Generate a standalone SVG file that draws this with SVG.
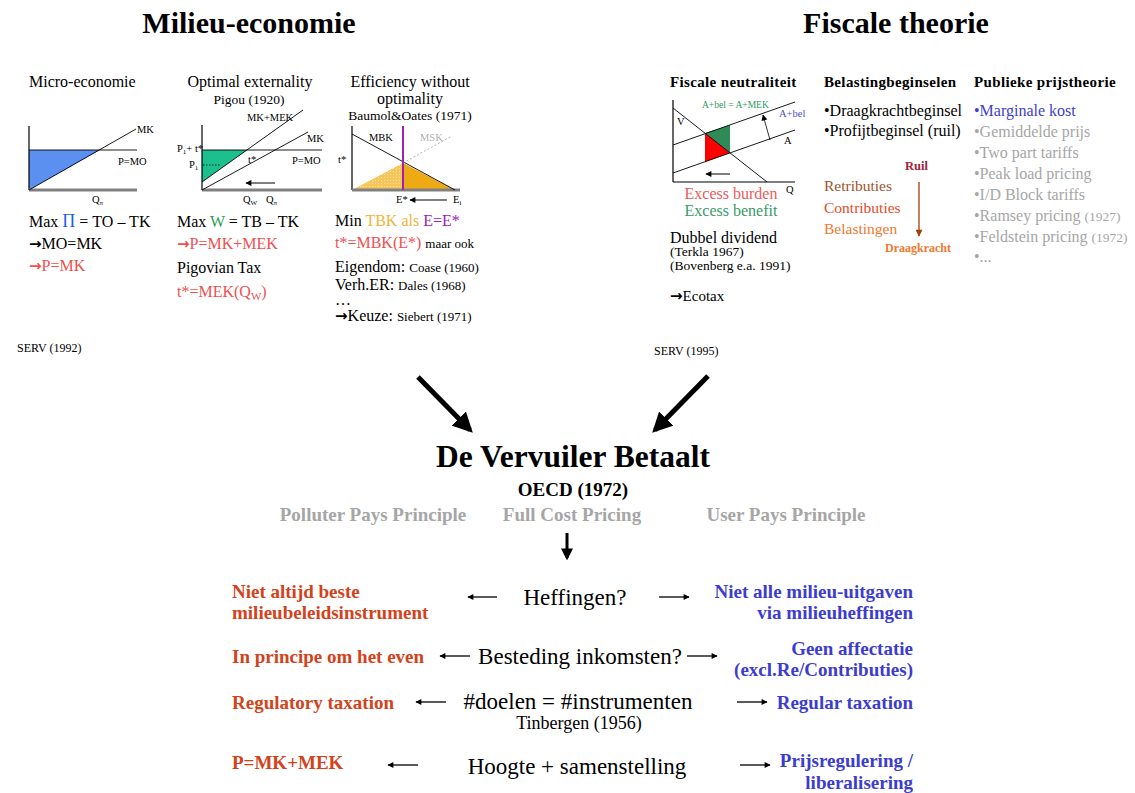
<svg xmlns="http://www.w3.org/2000/svg" width="1135" height="793" viewBox="0 0 1135 793">
<style>
  text { font-family: "Liberation Serif", "Times New Roman", serif; }
  .h1 { font-size: 30px; font-weight: bold; }
  .h2 { font-size: 16px; }
  .h3 { font-size: 15px; font-weight: bold; letter-spacing: 0.35px; }
  .sm { font-size: 13.5px; }
  .lbl { font-size: 10.5px; }
  .body { font-size: 16px; }
  .mid { font-size: 23px; }
  .b19 { font-size: 19px; font-weight: bold; }
  .arr { font-family: "DejaVu Sans", sans-serif; font-weight: bold; font-size: 15px; }
  .red { fill: #f05050; }
  .ro { fill: #d4421a; }
  .blue { fill: #3c3cd0; }
  .gray { fill: #a6a6a6; }
  .axis { stroke: #808080; stroke-width: 3; }
  .ax { stroke: #000; stroke-width: 1.2; fill: none; }
  .ln { stroke: #000; stroke-width: 0.9; fill: none; }
  .big { stroke: #000; stroke-width: 5; fill: none; }
  .thin { stroke: #000; stroke-width: 1.3; fill: none; }
</style>
<defs>
  <marker id="bigHead" viewBox="0 0 10 10" refX="8" refY="5" markerWidth="4" markerHeight="4" orient="auto">
    <path d="M0,0 L10,5 L0,10 z" fill="#000"/>
  </marker>
  <marker id="smallHead" viewBox="0 0 10 10" refX="9" refY="5" markerWidth="7" markerHeight="6" orient="auto" markerUnits="userSpaceOnUse">
    <path d="M0,0 L10,5 L0,10 z" fill="#000"/>
  </marker>
  <marker id="brownHead" viewBox="0 0 10 10" refX="9" refY="5" markerWidth="8" markerHeight="7" orient="auto" markerUnits="userSpaceOnUse">
    <path d="M0,0 L10,5 L0,10 z" fill="#a0400a"/>
  </marker>
  <pattern id="hatch" width="3" height="3" patternUnits="userSpaceOnUse">
    <rect width="3" height="3" fill="#f6c65a"/>
    <rect width="1" height="1" fill="#fbe2a8"/>
  </pattern>
</defs>

<!-- Section headings -->
<g id="headings">
  <text class="h1" x="249" y="33" text-anchor="middle">Milieu-economie</text>
  <text class="h1" x="896" y="33" text-anchor="middle">Fiscale theorie</text>
</g>

<!-- Micro-economie panel -->
<g id="micro">
  <text class="h2" x="29" y="87" font-size="15.5">Micro-economie</text>
  <polygon points="29,150 100,150 29,190" fill="#5b8ff0"/>
  <line class="ax" x1="29" y1="126" x2="29" y2="190"/>
  <line class="axis" x1="29" y1="190" x2="137" y2="190"/>
  <line class="ln" x1="29" y1="150" x2="137" y2="150"/>
  <line class="ln" x1="29" y1="190" x2="136" y2="129"/>
  <text class="lbl" x="137" y="133">MK</text>
  <text class="lbl" x="118" y="165">P=MO</text>
  <text class="lbl" x="92" y="203">Q<tspan font-size="7" dy="2">π</tspan></text>
  <text class="body" x="29" y="227">Max <tspan fill="#2060f0" font-size="18">Π</tspan> = TO – TK</text>
  <text class="body" x="29" y="249"><tspan class="arr">→</tspan>MO=MK</text>
  <text class="body red" x="29" y="271"><tspan class="arr">→</tspan>P=MK</text>
  <text x="17" y="352" font-size="12">SERV (1992)</text>
</g>

<!-- Optimal externality panel -->
<g id="pigou">
  <text class="h2" x="250" y="87" text-anchor="middle">Optimal externality</text>
  <text class="sm" x="249" y="104" text-anchor="middle" font-size="14">Pigou (1920)</text>
  <polygon points="202,150 247,150 202,182" fill="#1cc08c"/>
  <line class="ax" x1="202" y1="125" x2="202" y2="190"/>
  <line class="axis" x1="202" y1="190" x2="322" y2="190"/>
  <line class="ln" x1="202" y1="150" x2="322" y2="150"/>
  <line class="ln" x1="202" y1="182" x2="303" y2="110"/>
  <line class="ln" x1="202" y1="190" x2="308" y2="132"/>
  <line x1="203" y1="165" x2="220" y2="165" stroke="#000" stroke-width="0.8" stroke-dasharray="1.5,1.5"/>
  <text class="lbl" x="177" y="152">P<tspan font-size="7" dy="2">1</tspan><tspan dy="-2">+ t*</tspan></text>
  <text class="lbl" x="189" y="168">P<tspan font-size="7" dy="2">1</tspan></text>
  <text class="lbl" x="247" y="121">MK+MEK</text>
  <text class="lbl" x="307" y="142">MK</text>
  <text class="lbl" x="248" y="163">t*</text>
  <text class="lbl" x="292" y="164">P=MO</text>
  <line x1="275" y1="183" x2="246" y2="183" stroke="#000" stroke-width="1" marker-end="url(#smallHead)"/>
  <text class="lbl" x="243" y="203">Q<tspan font-size="7" dy="2">W</tspan></text>
  <text class="lbl" x="266" y="203">Q<tspan font-size="7" dy="2">π</tspan></text>
  <text class="body" x="177" y="227">Max <tspan fill="#2e9a50">W</tspan> = TB – TK</text>
  <text class="body red" x="177" y="249"><tspan class="arr">→</tspan>P=MK+MEK</text>
  <text class="body" x="177" y="273">Pigovian Tax</text>
  <text class="body red" x="177" y="297">t*=MEK(Q<tspan font-size="11" dy="3">W</tspan><tspan dy="-3">)</tspan></text>
</g>

<!-- Efficiency without optimality panel -->
<g id="baumol">
  <text class="h2" x="410" y="87" text-anchor="middle">Efficiency without</text>
  <text class="h2" x="410" y="104" text-anchor="middle">optimality</text>
  <text class="sm" x="410" y="120" text-anchor="middle">Baumol&amp;Oates (1971)</text>
  <polygon points="352,190 403,163 403,190" fill="url(#hatch)"/>
  <polygon points="403,163 455,190 403,190" fill="#eeaa14"/>
  <line class="ax" x1="352" y1="126" x2="352" y2="190"/>
  <line class="axis" x1="352" y1="190" x2="460" y2="190"/>
  <line class="ln" x1="352" y1="134" x2="455" y2="190"/>
  <line x1="403" y1="163" x2="452" y2="136" stroke="#aaa" stroke-width="0.9" stroke-dasharray="2,2"/>
  <line x1="403" y1="126" x2="403" y2="190" stroke="#a020b0" stroke-width="2"/>
  <text class="lbl" x="369" y="141">MBK</text>
  <text class="lbl" x="420" y="141" fill="#b0b0b0">MSK</text>
  <text class="lbl" x="338" y="163">t*</text>
  <text class="lbl" x="396" y="203">E*</text>
  <line x1="447" y1="200" x2="410" y2="200" stroke="#000" stroke-width="1" marker-end="url(#smallHead)"/>
  <text class="lbl" x="453" y="203">E<tspan font-size="7" dy="2">i</tspan></text>
  <text class="body" x="335" y="226">Min <tspan fill="#f0b43c">TBK als</tspan> <tspan fill="#a020b0">E=E*</tspan></text>
  <text class="body" x="335" y="248"><tspan fill="#f05050">t*=MBK(E*)</tspan> <tspan font-size="13">maar ook</tspan></text>
  <text class="body" x="335" y="272">Eigendom: <tspan font-size="13">Coase (1960)</tspan></text>
  <text class="body" x="335" y="290">Verh.ER: <tspan font-size="13">Dales (1968)</tspan></text>
  <text class="body" x="335" y="305">…</text>
  <text class="body" x="335" y="321"><tspan class="arr">→</tspan>Keuze: <tspan font-size="13">Siebert (1971)</tspan></text>
</g>

<!-- Fiscale neutraliteit panel -->
<g id="neutraliteit">
  <text class="h3" x="670" y="87">Fiscale neutraliteit</text>
  <polygon points="705,133 730,125 730,153" fill="#2e8b57"/>
  <polygon points="705,133 730,153 705,162" fill="#ff0000"/>
  <line class="ax" x1="673" y1="100" x2="673" y2="182"/>
  <line class="ax" x1="673" y1="182" x2="795" y2="182"/>
  <line class="ln" x1="673" y1="108" x2="767" y2="182"/>
  <line class="ln" x1="673" y1="145" x2="795" y2="102"/>
  <line class="ln" x1="673" y1="173" x2="795" y2="130"/>
  <line x1="770" y1="140" x2="763" y2="115" stroke="#000" stroke-width="0.8" marker-end="url(#smallHead)"/>
  <line x1="730" y1="174" x2="706" y2="174" stroke="#000" stroke-width="1" marker-end="url(#smallHead)"/>
  <text class="lbl" x="677" y="125">V</text>
  <text class="lbl" x="784" y="144">A</text>
  <text class="lbl" x="779" y="117" fill="#5050d0">A+bel</text>
  <text x="702" y="108" font-size="9.5" fill="#2e9a60">A+bel = A+MEK</text>
  <text class="lbl" x="786" y="193">Q</text>
  <text class="body" x="731" y="199" text-anchor="middle" fill="#f05a5a">Excess burden</text>
  <text class="body" x="731" y="216" text-anchor="middle" fill="#3a9a68">Excess benefit</text>
  <text class="body" x="670" y="243">Dubbel dividend</text>
  <text class="sm" x="670" y="256">(Terkla 1967)</text>
  <text class="sm" x="670" y="270">(Bovenberg e.a. 1991)</text>
  <text x="670" y="301" font-size="15"><tspan class="arr">→</tspan>Ecotax</text>
  <text x="654" y="355" font-size="12">SERV (1995)</text>
</g>

<!-- Belastingbeginselen panel -->
<g id="beginselen">
  <text class="h3" x="824" y="87">Belastingbeginselen</text>
  <text class="h2" x="824" y="116">•Draagkrachtbeginsel</text>
  <text class="h2" x="824" y="136">•Profijtbeginsel (ruil)</text>
  <text x="905" y="170" font-size="12.5" font-weight="bold" fill="#a0203a">Ruil</text>
  <text x="824" y="191" font-size="15.5" fill="#a0522d">Retributies</text>
  <text x="824" y="213" font-size="15.5" fill="#e84a28">Contributies</text>
  <text x="824" y="234" font-size="15.5" fill="#f07830">Belastingen</text>
  <line x1="919" y1="182" x2="919" y2="236" stroke="#a0400a" stroke-width="1.3" marker-end="url(#brownHead)"/>
  <text x="885" y="252" font-size="12" font-weight="bold" fill="#f07830">Draagkracht</text>
</g>

<!-- Publieke prijstheorie panel -->
<g id="prijstheorie">
  <text class="h3" x="974" y="87">Publieke prijstheorie</text>
  <text class="h2" x="974" y="116" fill="#4040d0">•Marginale kost</text>
  <text class="h2 gray" x="974" y="137">•Gemiddelde prijs</text>
  <text class="h2 gray" x="974" y="158">•Two part tariffs</text>
  <text class="h2 gray" x="974" y="179">•Peak load pricing</text>
  <text class="h2 gray" x="974" y="200">•I/D Block tariffs</text>
  <text class="h2 gray" x="974" y="221">•Ramsey pricing <tspan font-size="13.5">(1927)</tspan></text>
  <text class="h2 gray" x="974" y="242">•Feldstein pricing <tspan font-size="13.5">(1972)</tspan></text>
  <text class="h2 gray" x="974" y="262">•...</text>
</g>

<!-- Central principle -->
<g id="vervuiler">
  <text x="573" y="467" text-anchor="middle" font-size="31.5" font-weight="bold">De Vervuiler Betaalt</text>
  <text class="b19" x="573" y="496" text-anchor="middle">OECD (1972)</text>
  <text class="b19 gray" x="373" y="521" text-anchor="middle">Polluter Pays Principle</text>
  <text class="b19 gray" x="572" y="521" text-anchor="middle">Full Cost Pricing</text>
  <text class="b19 gray" x="786" y="521" text-anchor="middle">User Pays Principle</text>
</g>

<!-- Question rows -->
<g id="heffingen">
  <text class="b19 ro" x="232" y="598">Niet altijd beste</text>
  <text class="b19 ro" x="232" y="619">milieubeleidsinstrument</text>
  <text class="mid" x="575" y="605" text-anchor="middle">Heffingen?</text>
  <text class="b19 blue" x="913" y="598" text-anchor="end">Niet alle milieu-uitgaven</text>
  <text class="b19 blue" x="913" y="619" text-anchor="end">via milieuheffingen</text>
</g>
<g id="besteding">
  <text class="b19 ro" x="232" y="663">In principe om het even</text>
  <text class="mid" x="580" y="664" text-anchor="middle">Besteding inkomsten?</text>
  <text class="b19 blue" x="913" y="655" text-anchor="end">Geen affectatie</text>
  <text class="b19 blue" x="913" y="676" text-anchor="end">(excl.Re/Contributies)</text>
</g>
<g id="doelen">
  <text class="b19 ro" x="232" y="709">Regulatory taxation</text>
  <text class="mid" x="578" y="709" text-anchor="middle">#doelen = #instrumenten</text>
  <text x="579" y="729" text-anchor="middle" font-size="18">Tinbergen (1956)</text>
  <text class="b19 blue" x="913" y="709" text-anchor="end">Regular taxation</text>
</g>
<g id="hoogte">
  <text class="b19 ro" x="232" y="769">P=MK+MEK</text>
  <text class="mid" x="577" y="774" text-anchor="middle">Hoogte + samenstelling</text>
  <text class="b19 blue" x="913" y="767" text-anchor="end">Prijsregulering /</text>
  <text class="b19 blue" x="913" y="789" text-anchor="end">liberalisering</text>
</g>

<!-- Connectors -->
<g id="connectors">
  <line class="big" x1="418" y1="377" x2="470" y2="430" marker-end="url(#bigHead)"/>
  <line class="big" x1="708" y1="376" x2="655" y2="430" marker-end="url(#bigHead)"/>
  <line x1="567" y1="533" x2="567" y2="558" stroke="#000" stroke-width="3" marker-end="url(#bigHead)"/>
  <line class="thin" x1="497" y1="597" x2="468" y2="597" marker-end="url(#smallHead)"/>
  <line class="thin" x1="659" y1="597" x2="689" y2="597" marker-end="url(#smallHead)"/>
  <line class="thin" x1="470" y1="656" x2="440" y2="656" marker-end="url(#smallHead)"/>
  <line class="thin" x1="687" y1="656" x2="717" y2="656" marker-end="url(#smallHead)"/>
  <line class="thin" x1="446" y1="702" x2="416" y2="702" marker-end="url(#smallHead)"/>
  <line class="thin" x1="737" y1="702" x2="767" y2="702" marker-end="url(#smallHead)"/>
  <line class="thin" x1="418" y1="765" x2="388" y2="765" marker-end="url(#smallHead)"/>
  <line class="thin" x1="740" y1="765" x2="770" y2="765" marker-end="url(#smallHead)"/>
</g>
</svg>
